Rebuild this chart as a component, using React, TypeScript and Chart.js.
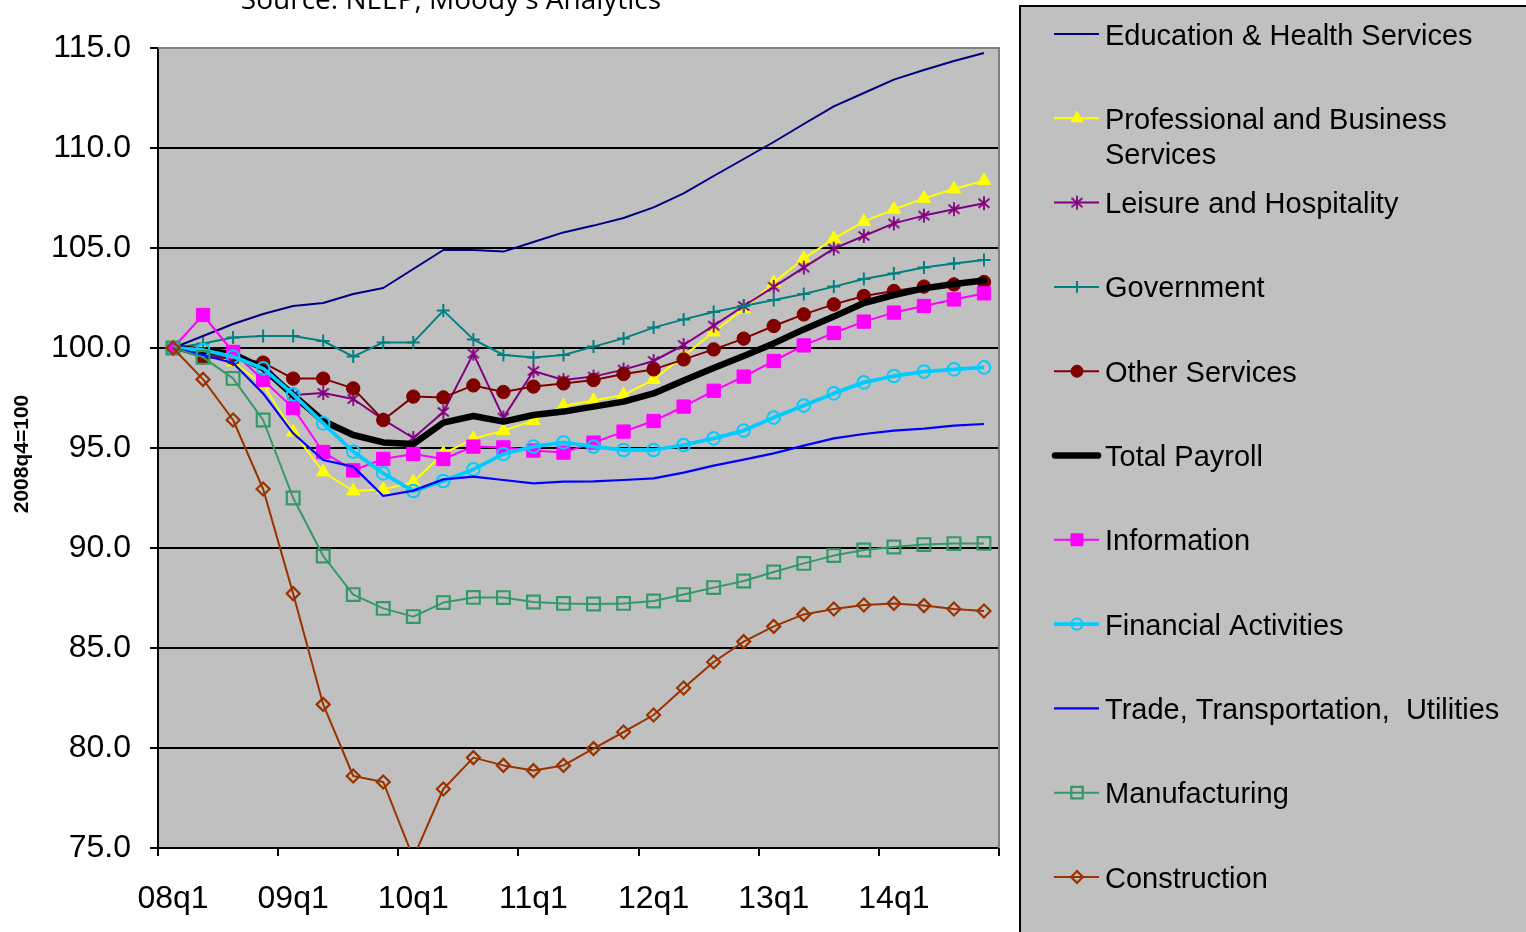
import React, { useEffect, useRef } from "react";
import { Chart, registerables } from "chart.js";
import { drawPoint } from "chart.js/helpers";

Chart.register(...registerables);

// ---------- DATA ----------
const quarters = [
  "08q1", "08q2", "08q3", "08q4",
  "09q1", "09q2", "09q3", "09q4",
  "10q1", "10q2", "10q3", "10q4",
  "11q1", "11q2", "11q3", "11q4",
  "12q1", "12q2", "12q3", "12q4",
  "13q1", "13q2", "13q3", "13q4",
  "14q1", "14q2", "14q3", "14q4",
];

const sourceText = "Source: NEEP, Moody's Analytics";
const yAxisTitle = "2008q4=100";
const yMin = 75;
const yMax = 115;
const yStep = 5;

const seriesNames = [
  "Education & Health Services",
  "Professional and Business Services",
  "Leisure and Hospitality",
  "Government",
  "Other Services",
  "Total Payroll",
  "Information",
  "Financial Activities",
  "Trade, Transportation,  Utilities",
  "Manufacturing",
  "Construction",
];

const educationHealth = [100, 100.6, 101.2, 101.7, 102.1, 102.25, 102.7, 103.0, 103.95, 104.9, 104.9, 104.82, 105.3, 105.78, 106.12, 106.5, 107.03, 107.73, 108.6, 109.45, 110.3, 111.2, 112.08, 112.75, 113.42, 113.9, 114.35, 114.75];
const professionalBusiness = [100, 99.8, 99.3, 98.15, 95.8, 93.8, 92.85, 92.93, 93.3, 94.72, 95.47, 95.87, 96.37, 97.1, 97.37, 97.65, 98.42, 99.6, 100.8, 101.95, 103.27, 104.47, 105.47, 106.32, 106.93, 107.48, 107.95, 108.37];
const leisureHospitality = [100, 99.7, 99.45, 99.25, 97.65, 97.75, 97.45, 96.42, 95.5, 96.8, 99.72, 96.52, 98.85, 98.4, 98.57, 98.92, 99.35, 100.15, 101.12, 102.1, 103.06, 104.02, 104.97, 105.6, 106.23, 106.62, 106.94, 107.24];
const government = [100, 100.23, 100.52, 100.6, 100.6, 100.35, 99.57, 100.28, 100.28, 101.87, 100.43, 99.65, 99.53, 99.65, 100.07, 100.48, 101.02, 101.43, 101.8, 102.1, 102.4, 102.7, 103.07, 103.45, 103.73, 104.02, 104.23, 104.4];
const otherServices = [100, 99.53, 99.5, 99.27, 98.47, 98.47, 97.98, 96.4, 97.57, 97.53, 98.13, 97.8, 98.07, 98.23, 98.4, 98.7, 98.93, 99.43, 99.93, 100.47, 101.1, 101.68, 102.18, 102.6, 102.85, 103.07, 103.18, 103.3];
const totalPayroll = [100, 99.87, 99.7, 98.98, 97.65, 96.35, 95.65, 95.28, 95.2, 96.27, 96.6, 96.32, 96.65, 96.82, 97.07, 97.32, 97.73, 98.37, 99.0, 99.6, 100.23, 100.93, 101.57, 102.25, 102.65, 102.98, 103.2, 103.37];
const information = [100, 101.65, 99.8, 98.4, 97.0, 94.8, 93.88, 94.45, 94.7, 94.45, 95.07, 95.03, 94.87, 94.77, 95.27, 95.82, 96.35, 97.07, 97.86, 98.57, 99.35, 100.13, 100.75, 101.32, 101.77, 102.1, 102.43, 102.73];
const financialActivities = [100, 99.9, 99.57, 98.98, 97.68, 96.23, 94.82, 93.73, 92.85, 93.35, 93.93, 94.7, 95.07, 95.28, 95.07, 94.9, 94.9, 95.15, 95.48, 95.87, 96.52, 97.12, 97.73, 98.28, 98.6, 98.82, 98.93, 99.03];
const tradeTransportUtilities = [100, 99.65, 99.25, 97.73, 95.73, 94.4, 94.07, 92.6, 92.87, 93.43, 93.57, 93.4, 93.23, 93.32, 93.33, 93.4, 93.48, 93.77, 94.12, 94.42, 94.73, 95.12, 95.48, 95.7, 95.87, 95.97, 96.12, 96.2];
const manufacturing = [100, 99.53, 98.48, 96.4, 92.5, 89.6, 87.67, 86.98, 86.57, 87.27, 87.53, 87.52, 87.3, 87.23, 87.2, 87.23, 87.35, 87.67, 88.02, 88.35, 88.8, 89.23, 89.62, 89.9, 90.05, 90.17, 90.22, 90.23];
const construction = [100, 98.43, 96.4, 92.95, 87.72, 82.18, 78.6, 78.3, 74.5, 77.95, 79.52, 79.13, 78.87, 79.13, 79.97, 80.8, 81.65, 83.0, 84.3, 85.32, 86.08, 86.68, 86.95, 87.15, 87.23, 87.12, 86.95, 86.85];

const seriesValues = [
  educationHealth,
  professionalBusiness,
  leisureHospitality,
  government,
  otherServices,
  totalPayroll,
  information,
  financialActivities,
  tradeTransportUtilities,
  manufacturing,
  construction,
];

// ---------- STYLES ----------
const FONT = "'Liberation Sans', Arial, sans-serif";
const W = 1526;
const H = 932;

function makeAsterisk(color: string): HTMLCanvasElement {
  const c = document.createElement("canvas");
  c.width = 16;
  c.height = 16;
  const g = c.getContext("2d")!;
  g.strokeStyle = color;
  g.lineWidth = 1.8;
  g.beginPath();
  g.moveTo(8, 1);
  g.lineTo(8, 15);
  g.moveTo(2.5, 3.5);
  g.lineTo(13.5, 12.5);
  g.moveTo(13.5, 3.5);
  g.lineTo(2.5, 12.5);
  g.stroke();
  return c;
}

type Style = {
  color: string;
  width: number;
  point?: any;
  radius?: number;
  fill?: string;
  pbw?: number;
  cap?: CanvasLineCap;
};

function buildStyles(): Style[] {
  const star = makeAsterisk("#800080");
  return [
    { color: "#000080", width: 2 },
    { color: "#FFFF00", width: 2, point: "triangle", radius: 7.8, fill: "#FFFF00", pbw: 1 },
    { color: "#800080", width: 2, point: star, radius: 7, fill: "#800080", pbw: 1 },
    { color: "#008080", width: 2, point: "cross", radius: 6.5, fill: "#008080", pbw: 2 },
    { color: "#800000", width: 2, point: "circle", radius: 6.7, fill: "#800000", pbw: 1 },
    { color: "#000000", width: 6.5, cap: "round" },
    { color: "#FF00FF", width: 2, point: "rect", radius: 9.4, fill: "#FF00FF", pbw: 1 },
    { color: "#00CCFF", width: 3.8, point: "circle", radius: 6.3, fill: "rgba(0,0,0,0)", pbw: 2 },
    { color: "#0000FF", width: 2.2 },
    { color: "#339966", width: 2, point: "rect", radius: 9, fill: "rgba(0,0,0,0)", pbw: 2.2 },
    { color: "#993300", width: 2, point: "rectRot", radius: 6.5, fill: "rgba(0,0,0,0)", pbw: 2.2 },
  ];
}

function wrapText(ctx: CanvasRenderingContext2D, text: string, maxW: number): string[] {
  const words = text.split(" ");
  const lines: string[] = [];
  let cur = "";
  for (let i = 0; i < words.length; i++) {
    const w = words[i];
    const test = cur === "" ? w : cur + " " + w;
    if (ctx.measureText(test).width > maxW && cur !== "") {
      lines.push(cur);
      cur = w;
    } else {
      cur = test;
    }
  }
  if (cur !== "") lines.push(cur);
  return lines;
}

export default function App() {
  const canvasRef = useRef<HTMLCanvasElement | null>(null);

  useEffect(() => {
    const canvas = canvasRef.current;
    if (!canvas) return;
    const styles = buildStyles();
    const n = seriesValues.length;

    const datasets = seriesValues.map((vals, i) => {
      const s = styles[i];
      return {
        label: seriesNames[i],
        data: vals,
        borderColor: s.color,
        backgroundColor: s.color,
        borderWidth: s.width,
        borderCapStyle: s.cap || "butt",
        borderJoinStyle: "round" as CanvasLineJoin,
        tension: 0,
        fill: false,
        pointStyle: s.point || "circle",
        pointRadius: s.point ? s.radius : 0,
        pointHoverRadius: s.point ? s.radius : 0,
        pointBackgroundColor: s.fill || s.color,
        pointBorderColor: s.color,
        pointBorderWidth: s.pbw || 1,
        order: n - 1 - i,
      };
    });

    const decorPlugin = {
      id: "decor",
      beforeDraw(chart: any) {
        const { ctx, chartArea: a } = chart;
        ctx.save();
        ctx.fillStyle = "#FFFFFF";
        ctx.fillRect(0, 0, chart.width, chart.height);
        ctx.fillStyle = "#C0C0C0";
        ctx.fillRect(a.left, a.top, a.right - a.left, a.bottom - a.top);
        ctx.restore();
      },
      beforeDatasetsDraw(chart: any) {
        const { ctx, chartArea: a } = chart;
        ctx.save();
        ctx.strokeStyle = "#808080";
        ctx.lineWidth = 2;
        ctx.beginPath();
        ctx.moveTo(a.left, a.top);
        ctx.lineTo(a.right, a.top);
        ctx.lineTo(a.right, a.bottom);
        ctx.stroke();
        ctx.restore();
      },
      afterDraw(chart: any) {
        const { ctx } = chart;
        ctx.save();
        // source title (cut off at top, as in the reference)
        ctx.fillStyle = "#000";
        ctx.font = "28px 'Open Sans', sans-serif";
        ctx.textAlign = "center";
        ctx.textBaseline = "alphabetic";
        ctx.fillText(sourceText, 451, 9);

        // y axis title
        ctx.save();
        ctx.translate(22, 454);
        ctx.rotate(-Math.PI / 2);
        ctx.font = "bold 21px " + FONT;
        ctx.textAlign = "center";
        ctx.textBaseline = "middle";
        ctx.fillText(yAxisTitle, 0, 0);
        ctx.restore();

        // legend box
        ctx.fillStyle = "#C0C0C0";
        ctx.fillRect(1020, 6, 520, 940);
        ctx.strokeStyle = "#000";
        ctx.lineWidth = 2;
        ctx.strokeRect(1020, 6, 520, 940);

        ctx.font = "29px " + FONT;
        ctx.textBaseline = "middle";
        ctx.textAlign = "left";
        for (let i = 0; i < n; i++) {
          const s = styles[i];
          const y = 34 + 84.3 * i;
          ctx.strokeStyle = s.color;
          ctx.lineWidth = s.width;
          ctx.lineCap = s.cap || "butt";
          ctx.beginPath();
          ctx.moveTo(s.cap ? 1055 : 1054, y);
          ctx.lineTo(s.cap ? 1098 : 1099, y);
          ctx.stroke();
          if (s.point) {
            ctx.fillStyle = s.fill || s.color;
            ctx.strokeStyle = s.color;
            ctx.lineWidth = s.pbw || 1;
            ctx.lineCap = "butt";
            drawPoint(ctx, { pointStyle: s.point, radius: (s.radius || 5) * 0.9, rotation: 0, borderWidth: s.pbw || 1 } as any, 1077, y);
          }
          ctx.fillStyle = "#000";
          const lines = wrapText(ctx, seriesNames[i], 405);
          lines.forEach((ln, k) => ctx.fillText(ln, 1105, y + 2.5 + 35 * k));
        }
        ctx.restore();
      },
    };

    const chart = new Chart(canvas, {
      type: "line",
      data: { labels: quarters, datasets: datasets as any },
      plugins: [decorPlugin],
      options: {
        animation: false,
        responsive: false,
        maintainAspectRatio: false,
        devicePixelRatio: 1,
        layout: { padding: { left: 0, top: 48, right: W - 999, bottom: 0 } },
        plugins: {
          legend: { display: false },
          tooltip: { enabled: false },
          title: { display: false },
        },
        elements: { line: { borderJoinStyle: "round" } },
        scales: {
          x: {
            type: "category",
            offset: true,
            afterFit: (scale: any) => {
              scale.height = H - 848;
            },
            grid: {
              offset: true,
              drawOnChartArea: false,
              drawTicks: true,
              tickLength: 8,
              lineWidth: 2,
              color: (ctx: any) =>
                ctx.index === undefined || ctx.index % 4 === 0 ? "#000" : "rgba(0,0,0,0)",
              tickColor: (ctx: any) =>
                ctx.index === undefined || ctx.index % 4 === 0 ? "#000" : "rgba(0,0,0,0)",
            },
            border: { display: true, color: "#000", width: 2 },
            ticks: {
              autoSkip: false,
              maxRotation: 0,
              minRotation: 0,
              padding: 24,
              color: "#000",
              font: { family: FONT, size: 32 },
              callback: (_v: any, idx: number) => (idx % 4 === 0 ? quarters[idx] : ""),
            },
          },
          y: {
            type: "linear",
            min: yMin,
            max: yMax,
            afterFit: (scale: any) => {
              scale.width = 158;
            },
            grid: {
              drawOnChartArea: true,
              drawTicks: true,
              tickLength: 8,
              lineWidth: 2,
              color: (ctx: any) =>
                ctx.tick && ctx.tick.value === yMax ? "#808080" : "#000",
              tickColor: "#000",
            },
            border: { display: true, color: "#000", width: 2 },
            ticks: {
              stepSize: yStep,
              padding: 19,
              color: "#000",
              font: { family: FONT, size: 32 },
              callback: (v: any) => Number(v).toFixed(1),
            },
          },
        },
      } as any,
    });

    return () => {
      chart.destroy();
    };
  }, []);

  return (
    <div style={{ position: "fixed", left: 0, top: 0, width: W, height: H, background: "#fff" }}>
      <canvas ref={canvasRef} width={W} height={H} style={{ display: "block", width: W, height: H }} />
    </div>
  );
}
